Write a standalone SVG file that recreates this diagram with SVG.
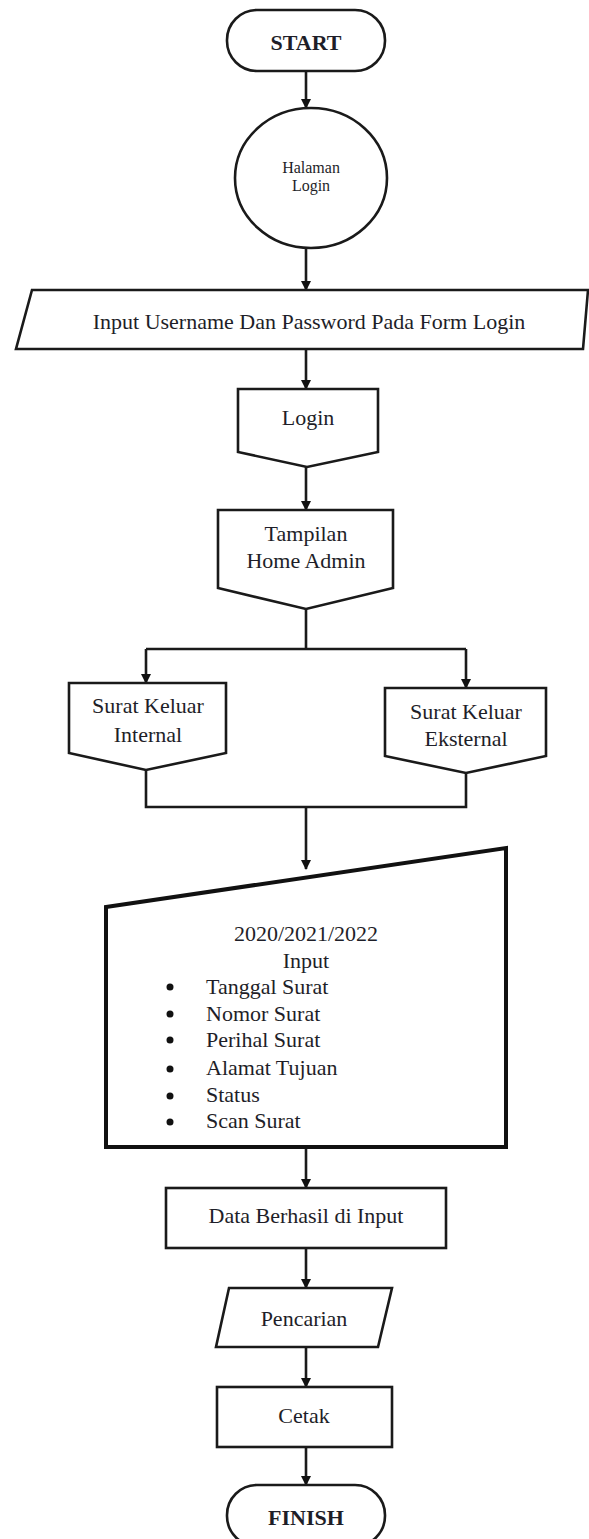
<svg xmlns="http://www.w3.org/2000/svg" width="589" height="1539" viewBox="0 0 589 1539">
<style>
.s{fill:#fff;stroke:#1a1a1a;stroke-width:2.6}
.b{fill:#fff;stroke:#111;stroke-width:4}
.t{font-family:"Liberation Serif","Times New Roman",serif;font-size:22px;fill:#1e1e28;text-anchor:middle}
.l{font-family:"Liberation Serif","Times New Roman",serif;font-size:22px;fill:#1e1e28}
.bold{font-weight:bold}
.c{fill:none;stroke:#1a1a1a;stroke-width:2.6}
.dot{fill:#111}
</style>
<defs>
<marker id="ah" markerWidth="10" markerHeight="10" refX="9" refY="5" orient="auto" markerUnits="userSpaceOnUse">
<path d="M0,0 L10,5 L0,10 z" fill="#111"/>
</marker>
</defs>
<g id="connectors">
<path class="c" d="M306,71 V108" marker-end="url(#ah)"/>
<path class="c" d="M306,248 V290" marker-end="url(#ah)"/>
<path class="c" d="M306,349 V389" marker-end="url(#ah)"/>
<path class="c" d="M306,467 V510" marker-end="url(#ah)"/>
<path class="c" d="M306,609 V649 M146,649 H466"/>
<path class="c" d="M146,649 V683" marker-end="url(#ah)"/>
<path class="c" d="M466,649 V688" marker-end="url(#ah)"/>
<path class="c" d="M146,770 V807 H466 V773"/>
<path class="c" d="M306,807 V869" marker-end="url(#ah)"/>
<path class="c" d="M306,1147 V1188" marker-end="url(#ah)"/>
<path class="c" d="M306,1248 V1288" marker-end="url(#ah)"/>
<path class="c" d="M306,1347 V1387" marker-end="url(#ah)"/>
<path class="c" d="M306,1447 V1485" marker-end="url(#ah)"/>
</g>
<g id="start">
<rect class="s" x="227" y="10" width="158" height="61" rx="30"/>
<text class="t bold" x="306" y="50">START</text>
</g>
<g id="halaman-login">
<ellipse class="s" cx="311" cy="178" rx="76" ry="70"/>
<text class="t" style="font-size:16px" x="311" y="173">Halaman</text>
<text class="t" style="font-size:16px" x="311" y="191">Login</text>
</g>
<g id="input-login">
<path class="s" d="M32,290 H588 L583,349 H16 Z"/>
<text class="t" x="309" y="329">Input Username Dan Password Pada Form Login</text>
</g>
<g id="login">
<path class="s" d="M238,389 H378 V452 L307,467 L238,452 Z"/>
<text class="t" x="308" y="425">Login</text>
</g>
<g id="home-admin">
<path class="s" d="M218,510 H393 V588 L306,609 L218,588 Z"/>
<text class="t" x="306" y="541">Tampilan</text>
<text class="t" x="306" y="568">Home Admin</text>
</g>
<g id="internal">
<path class="s" d="M69,683 H226 V753 L146,770 L69,753 Z"/>
<text class="t" x="148" y="713">Surat Keluar</text>
<text class="t" x="148" y="742">Internal</text>
</g>
<g id="eksternal">
<path class="s" d="M385,688 H546 V756 L466,773 L385,756 Z"/>
<text class="t" x="466" y="719">Surat Keluar</text>
<text class="t" x="466" y="746">Eksternal</text>
</g>
<g id="input-data">
<path class="b" d="M106,907 L506,848 V1147 H106 Z"/>
<text class="t" x="306" y="941">2020/2021/2022</text>
<text class="t" x="306" y="968">Input</text>
<circle class="dot" cx="170" cy="987" r="3.5"/>
<circle class="dot" cx="170" cy="1014" r="3.5"/>
<circle class="dot" cx="170" cy="1040" r="3.5"/>
<circle class="dot" cx="170" cy="1069" r="3.5"/>
<circle class="dot" cx="170" cy="1096" r="3.5"/>
<circle class="dot" cx="170" cy="1122" r="3.5"/>
<text class="l" x="206" y="994">Tanggal Surat</text>
<text class="l" x="206" y="1021">Nomor Surat</text>
<text class="l" x="206" y="1047">Perihal Surat</text>
<text class="l" x="206" y="1075">Alamat Tujuan</text>
<text class="l" x="206" y="1102">Status</text>
<text class="l" x="206" y="1128">Scan Surat</text>
</g>
<g id="data-berhasil">
<rect class="s" x="166" y="1188" width="280" height="60"/>
<text class="t" x="306" y="1223">Data Berhasil di Input</text>
</g>
<g id="pencarian">
<path class="s" d="M229,1288 H392 L378,1347 H216 Z"/>
<text class="t" x="304" y="1326">Pencarian</text>
</g>
<g id="cetak">
<rect class="s" x="217" y="1387" width="175" height="60"/>
<text class="t" x="304" y="1423">Cetak</text>
</g>
<g id="finish">
<rect class="s" x="227" y="1485" width="158" height="61" rx="30"/>
<text class="t bold" x="306" y="1525">FINISH</text>
</g>
</svg>
